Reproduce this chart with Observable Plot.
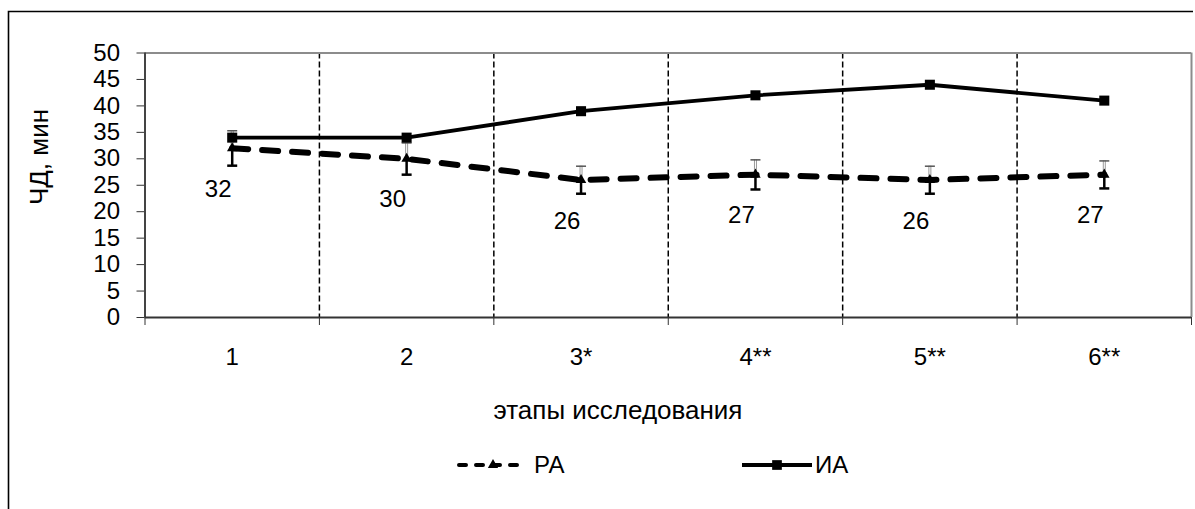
<!DOCTYPE html>
<html>
<head>
<meta charset="utf-8">
<script src="https://cdn.jsdelivr.net/npm/d3@7"></script>
<script src="https://cdn.jsdelivr.net/npm/@observablehq/plot@0.6"></script>
<style>
  body { margin: 0; background: #fff; }
  svg { display: block; }
</style>
</head>
<body>
<div id="chart"></div>
<script>
// Study stages (x categories)
const stages = ["1", "2", "3*", "4**", "5**", "6**"];
// Respiratory rate, RA group (mean and error)
const raValues = [32, 30, 26, 27, 26, 27];
const raErrors = [3.3, 3, 2.6, 2.8, 2.6, 2.6];
// Respiratory rate, IA group
const iaValues = [34, 34, 39, 42, 44, 41];
// Y axis ticks
const yTicks = [0, 5, 10, 15, 20, 25, 30, 35, 40, 45, 50];
const seriesNames = ["РА", "ИА"];
const xTitle = "этапы исследования";
const yTitle = "ЧД, мин";

const FONT = "'Liberation Sans', Arial, sans-serif";
const NUM_SIZE = 24;
const TITLE_SIZE = 26;

const ra = stages.map((s, i) => ({stage: i + 1, value: raValues[i], err: raErrors[i]}));
const ia = stages.map((s, i) => ({stage: i + 1, value: iaValues[i]}));
const bounds = d3.range(0.5, stages.length + 1, 1);   // band edges
const inner = bounds.slice(1, -1);

// short horizontal cap for the error bars
const capSymbol = {draw(ctx) { ctx.moveTo(-5, 0); ctx.lineTo(5, 0); }};

const plot = Plot.plot({
  width: 1195,
  height: 509,
  marginLeft: 144.5,
  marginRight: 4,
  marginTop: 52.5,
  marginBottom: 192,
  style: {fontFamily: FONT, fontSize: NUM_SIZE + "px", color: "#000", background: "#fff"},
  x: {type: "linear", domain: [0.5, stages.length + 0.5]},
  y: {domain: [0, 50]},
  marks: [
    // stage separators
    Plot.ruleX(inner, {stroke: "#000", strokeWidth: 1.5, strokeDasharray: "6,3"}),
    // plot area border (top and right)
    Plot.ruleY([50], {stroke: "#8c8c8c", strokeWidth: 2}),
    Plot.ruleX([stages.length + 0.5], {stroke: "#8c8c8c", strokeWidth: 2}),
    // axes
    Plot.axisY({ticks: yTicks, tickSize: 8, tickPadding: 17, label: null, fontSize: NUM_SIZE, stroke: "#333"}),
    Plot.axisX({ticks: bounds, tickSize: 8, tickFormat: () => "", label: null, stroke: "#333"}),
    Plot.axisX({ticks: d3.range(1, stages.length + 1), tickSize: 0, tickPadding: 30,
                tickFormat: d => stages[d - 1], label: null, fontSize: NUM_SIZE}),
    Plot.ruleX([0.5], {stroke: "#444", strokeWidth: 2}),
    Plot.ruleY([0], {stroke: "#333", strokeWidth: 2}),
    // RA error bars: upper whisker (light) and lower whisker (dark)
    Plot.ruleX(ra, {x: "stage", y1: "value", y2: d => d.value + d.err, stroke: "#999", strokeWidth: 3}),
    Plot.ruleX(ra, {x: "stage", y1: "value", y2: d => d.value + d.err, stroke: "#fff", strokeWidth: 1}),
    Plot.dot(ra, {x: "stage", y: d => d.value + d.err, symbol: capSymbol, stroke: "#555", strokeWidth: 1.5}),
    Plot.ruleX(ra, {x: "stage", y1: "value", y2: d => d.value - d.err, stroke: "#000", strokeWidth: 2.5}),
    Plot.dot(ra, {x: "stage", y: d => d.value - d.err, symbol: capSymbol, stroke: "#000", strokeWidth: 2.5}),
    // RA series
    Plot.line(ra, {x: "stage", y: "value", stroke: "#000", strokeWidth: 6,
                   strokeDasharray: "16,14", strokeLinecap: "round"}),
    Plot.dot(ra, {x: "stage", y: "value", symbol: "triangle2", r: 5, fill: "#000"}),
    Plot.text(ra, {x: "stage", y: "value", text: d => String(d.value), dx: -14, dy: 41,
                   fontSize: NUM_SIZE, fill: "#000"}),
    // IA series
    Plot.line(ia, {x: "stage", y: "value", stroke: "#000", strokeWidth: 3.8}),
    Plot.dot(ia, {x: "stage", y: "value", symbol: "square2", r: 6.4, fill: "#000"})
  ]
});

document.getElementById("chart").appendChild(plot);

const svg = d3.select(plot);
// outer frame (top and left edges)
svg.append("path")
  .attr("d", "M8.5,509 L8.5,11.5 L1193,11.5")
  .attr("fill", "none").attr("stroke", "#000").attr("stroke-width", 1.6);

// axis titles
svg.append("text")
  .attr("x", 618).attr("y", 419)
  .attr("text-anchor", "middle")
  .attr("font-family", FONT).attr("font-size", TITLE_SIZE).attr("fill", "#000")
  .text(xTitle);
svg.append("text")
  .attr("transform", "translate(48,157) rotate(-90)")
  .attr("text-anchor", "middle")
  .attr("font-family", FONT).attr("font-size", TITLE_SIZE).attr("fill", "#000")
  .text(yTitle);

// legend
const lg = svg.append("g")
  .attr("font-family", FONT).attr("font-size", NUM_SIZE)
  .attr("text-anchor", "start").attr("fill", "#000");
lg.append("line").attr("x1", 459).attr("x2", 526).attr("y1", 465).attr("y2", 465)
  .attr("stroke", "#000").attr("stroke-width", 4)
  .attr("stroke-dasharray", "7,10").attr("stroke-linecap", "round");
lg.append("path").attr("d", d3.symbol(d3.symbolTriangle2, 75)()).attr("transform", "translate(493,465)");
lg.append("text").attr("x", 534).attr("y", 473).attr("text-anchor", "start").text(seriesNames[0]);
lg.append("line").attr("x1", 742).attr("x2", 812).attr("y1", 465).attr("y2", 465)
  .attr("stroke", "#000").attr("stroke-width", 4);
lg.append("path").attr("d", d3.symbol(d3.symbolSquare2, 120)()).attr("transform", "translate(777,465)");
lg.append("text").attr("x", 815).attr("y", 473).attr("text-anchor", "start").text(seriesNames[1]);
</script>
</body>
</html>
